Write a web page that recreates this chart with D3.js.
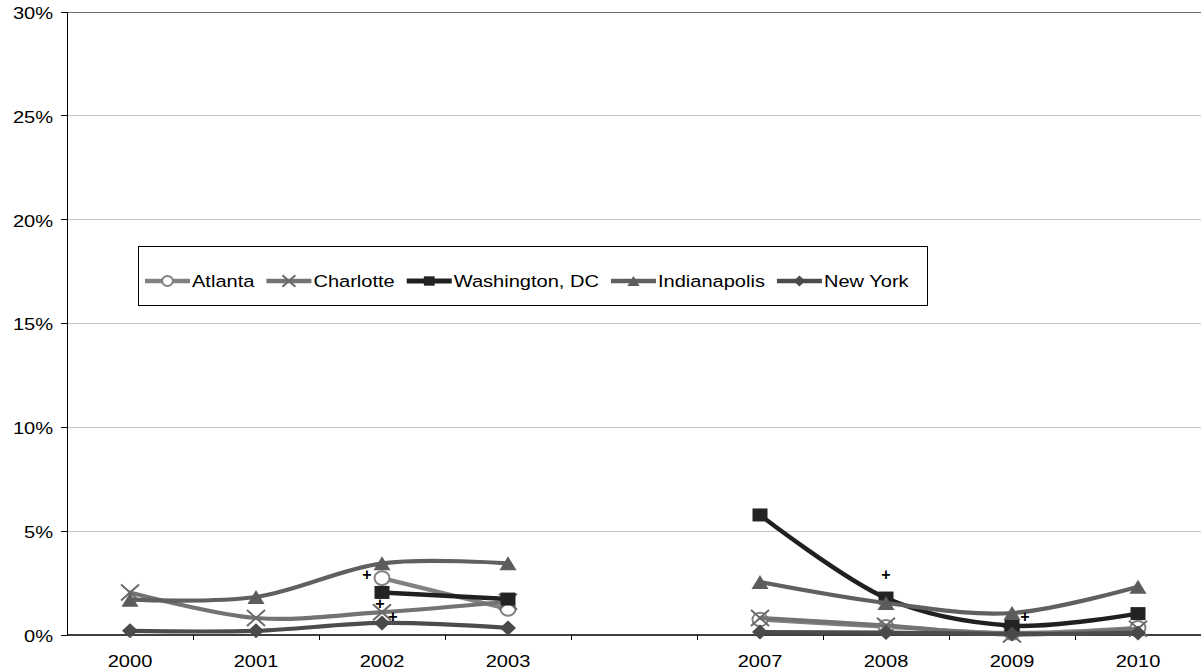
<!DOCTYPE html>
<html>
<head>
<meta charset="utf-8">
<script src="https://cdn.jsdelivr.net/npm/d3@7"></script>
<style>
  html, body { margin: 0; padding: 0; background: #ffffff; }
  svg { display: block; }
  text { font-family: "Liberation Sans", Arial, sans-serif; fill: #000; }
</style>
</head>
<body>
<svg id="chart" width="1201" height="672"></svg>
<script>
// ---- data ----
const categories = ["2000", "2001", "2002", "2003", "", "2007", "2008", "2009", "2010"];
const atlanta      = [null, null, 2.74, 1.25, null, 0.75, 0.40, 0.10, 0.35];
const charlotte    = [2.05, 0.82, 1.10, 1.60, null, 0.82, 0.45, 0.02, 0.30];
const washington   = [null, null, 2.05, 1.73, null, 5.78, 1.78, 0.45, 1.03];
const indianapolis = [1.70, 1.83, 3.45, 3.45, null, 2.55, 1.54, 1.06, 2.32];
const newYork      = [0.20, 0.20, 0.58, 0.34, null, 0.14, 0.12, 0.05, 0.10];
const seriesNames  = ["Atlanta", "Charlotte", "Washington, DC", "Indianapolis", "New York"];
const yTicks = [0, 5, 10, 15, 20, 25, 30];
const plusCats   = ["2002", "2002", "2002", "2008", "2009"];
const plusValues = [2.89, 1.54, 0.87, 2.89, 0.87];

(function () {
// ---- styling ----
const styles = [
  { line: "#828282", marker: "circle",   fill: "#ffffff", stroke: "#828282" },
  { line: "#737373", marker: "x",        fill: "none",    stroke: "#6a6a6a" },
  { line: "#202020", marker: "square",   fill: "#232323", stroke: "#232323" },
  { line: "#606060", marker: "triangle", fill: "#5c5c5c", stroke: "#5c5c5c" },
  { line: "#4c4c4c", marker: "diamond",  fill: "#4a4a4a", stroke: "#4a4a4a" }
];
const allValues = [atlanta, charlotte, washington, indianapolis, newYork];
const SX = 1.18; // horizontal text stretch
const FS = 17;

const svg = d3.select("#chart");
const pL = 67, pR = 1201, pT = 12, pB = 635;

const x = d3.scaleBand().domain(categories).range([pL, pR]).padding(0);
const y = d3.scaleLinear().domain([0, 30]).range([pB, pT]);
const cx = c => x(c) + x.bandwidth() / 2;

function stretchedText(g, tx, ty, str, anchor) {
  return g.append("text")
    .attr("transform", `translate(${tx},${ty}) scale(${SX},1)`)
    .attr("text-anchor", anchor)
    .attr("dominant-baseline", "central")
    .style("font-size", FS + "px")
    .text(str);
}

// gridlines
const grid = svg.append("g");
yTicks.filter(t => t > 0).forEach(t => {
  grid.append("line")
    .attr("x1", pL).attr("x2", pR)
    .attr("y1", y(t)).attr("y2", y(t))
    .attr("stroke", t === 30 ? "#6e6e6e" : "#c4c4c4")
    .attr("stroke-width", 1)
    .attr("shape-rendering", "crispEdges");
});

// y axis
const yAxisG = svg.append("g");
yAxisG.append("line").attr("x1", pL).attr("x2", pL).attr("y1", pT).attr("y2", pB)
  .attr("stroke", "#000").attr("shape-rendering", "crispEdges");
yTicks.forEach(t => {
  yAxisG.append("line").attr("x1", pL - 6).attr("x2", pL).attr("y1", y(t)).attr("y2", y(t))
    .attr("stroke", "#000").attr("shape-rendering", "crispEdges");
  stretchedText(yAxisG, 53, y(t) + 1, t + "%", "end");
});

// x axis
const xAxisG = svg.append("g");
xAxisG.append("line").attr("x1", pL).attr("x2", pR).attr("y1", pB).attr("y2", pB)
  .attr("stroke", "#000").attr("stroke-width", 1.3);
categories.forEach((c, i) => {
  const bx = x(c) + x.bandwidth();
  xAxisG.append("line").attr("x1", bx).attr("x2", bx).attr("y1", pB).attr("y2", pB + 5)
    .attr("stroke", "#000").attr("shape-rendering", "crispEdges");
  if (c !== "") stretchedText(xAxisG, cx(c), pB + 26, c, "middle");
});

// marker drawing
function drawMarker(g, type, st, px, py, scale) {
  const s = scale || 1;
  if (type === "circle") {
    g.append("ellipse").attr("cx", px).attr("cy", py).attr("rx", 7.5 * s).attr("ry", 6.8 * s)
      .attr("fill", st.fill).attr("stroke", st.stroke).attr("stroke-width", 2);
  } else if (type === "x") {
    const w = 9 * s, h = 8 * s;
    g.append("path").attr("d", `M${px - w},${py - h}L${px + w},${py + h}M${px - w},${py + h}L${px + w},${py - h}`)
      .attr("stroke", st.stroke).attr("stroke-width", 2).attr("fill", "none");
  } else if (type === "square") {
    const w = 7.5 * s, h = 6.5 * s;
    g.append("rect").attr("x", px - w).attr("y", py - h).attr("width", 2 * w).attr("height", 2 * h)
      .attr("fill", st.fill);
  } else if (type === "triangle") {
    const w = 8.5 * s, h = 7 * s;
    g.append("path").attr("d", `M${px},${py - h}L${px + w},${py + h}L${px - w},${py + h}Z`).attr("fill", st.fill);
  } else if (type === "diamond") {
    const w = 8 * s, h = 7.5 * s;
    g.append("path").attr("d", `M${px},${py - h}L${px + w},${py}L${px},${py + h}L${px - w},${py}Z`).attr("fill", st.fill);
  }
}

// series
const line = d3.line()
  .defined(d => d.v != null)
  .x(d => cx(d.c))
  .y(d => y(d.v))
  .curve(d3.curveCardinal.tension(0));

allValues.forEach((vals, si) => {
  const st = styles[si];
  const data = categories.map((c, i) => ({ c, v: vals[i] }));
  const g = svg.append("g");
  g.append("path").datum(data).attr("d", line)
    .attr("fill", "none").attr("stroke", st.line).attr("stroke-width", si === 2 ? 4.5 : 4.2)
    .attr("stroke-linejoin", "round").attr("stroke-linecap", "round");
  data.filter(d => d.v != null).forEach(d => drawMarker(g, st.marker, st, cx(d.c), y(d.v)));
});

// plus annotations
const plusOffsets = [-15, -2, 11, 0, 13];
plusCats.forEach((c, i) => {
  svg.append("text")
    .attr("x", cx(c) + plusOffsets[i]).attr("y", y(plusValues[i]))
    .attr("text-anchor", "middle").attr("dominant-baseline", "central")
    .style("font-size", "16px").style("font-weight", "bold").text("+");
});

// legend
const lg = svg.append("g");
lg.append("rect").attr("x", 138.5).attr("y", 246.5).attr("width", 789).attr("height", 59)
  .attr("fill", "#fff").attr("stroke", "#000").attr("stroke-width", 1);
let lx = 145;
const ly = 281;
seriesNames.forEach((name, i) => {
  const st = styles[i];
  lg.append("line").attr("x1", lx).attr("x2", lx + 45).attr("y1", ly).attr("y2", ly)
    .attr("stroke", st.line).attr("stroke-width", i === 2 ? 5 : 4.5);
  drawMarker(lg, st.marker, st, lx + 22.5, ly, 0.72);
  const t = stretchedText(lg, lx + 47, ly, name, "start");
  const w = t.node().getComputedTextLength() * SX;
  lx = lx + 47 + w + 12;
});
})();
</script>
</body>
</html>
